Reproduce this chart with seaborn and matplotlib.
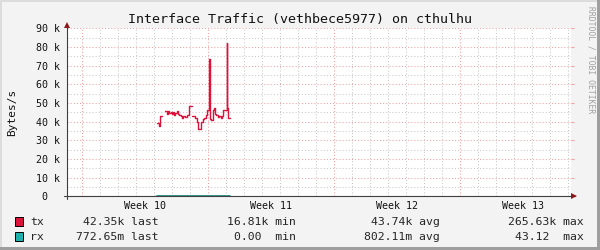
import numpy as np
import pandas as pd
import matplotlib
matplotlib.use("Agg")
import matplotlib.pyplot as plt
import matplotlib.transforms as mtransforms
from matplotlib.patches import Rectangle
from matplotlib.ticker import MultipleLocator, FixedLocator
import seaborn as sns

# ---------------- data ----------------
title = "Interface Traffic (vethbece5977) on cthulhu"
y_label = "Bytes/s"
watermark = "RRDTOOL / TOBI OETIKER"
week_labels = ["Week 10", "Week 11", "Week 12", "Week 13"]
week_starts = [0, 7, 14, 21]          # days since start of week 10
y_ticks = [0, 10000, 20000, 30000, 40000, 50000, 60000, 70000, 80000, 90000]
y_tick_labels = ["0  ", "10 k", "20 k", "30 k", "40 k", "50 k", "60 k", "70 k", "80 k", "90 k"]

# tx (bytes/s): step start time in days, value, segment id (gaps between segments)
tx_days = [4.18, 4.28, 4.35, 4.44,
           4.61, 4.71, 4.79, 4.85, 4.93, 4.98, 5.06, 5.11, 5.18, 5.26, 5.33, 5.41,
           5.48, 5.56, 5.63, 5.74, 5.85, 5.93, 6.09,
           6.11, 6.28, 6.37, 6.44, 6.61, 6.71, 6.78, 6.87, 6.94, 7.07, 7.13, 7.18,
           7.26, 7.33, 7.37, 7.44, 7.56, 7.63, 7.71, 7.78, 7.85, 8.03, 8.07, 8.13, 8.22]
tx_values = [39100, 37700, 43200, 43200,
             45700, 44300, 45700, 44500, 45300, 43900, 45000, 43600, 44500, 45700, 44300, 43600,
             42900, 42100, 43200, 42500, 43600, 48600, 48600,
             43200, 42100, 39700, 36100, 39700, 41400, 41800, 43600, 46100, 73800, 41400, 40900,
             46200, 47200, 43900, 43600, 42700, 43200, 42100, 43200, 46200, 82300, 47200, 42100, 42100]
tx_segment = [1] * 4 + [2] * 19 + [3] * 25

# rx (bytes/s): tiny values, hugging the zero line
rx_days = [4.18, 4.44, 4.61, 5.20, 5.80, 6.09, 6.11, 6.70, 7.30, 7.90, 8.22]
rx_values = [0.9, 0.7, 0.8, 0.6, 0.9, 0.8, 0.7, 0.9, 0.8, 0.8, 0.77]

legend_names = ["tx", "rx"]
legend_colors = ["#DC143C", "#20B2AA"]
legend_last = ["42.35k last", "772.65m last"]
legend_min = ["16.81k min", "0.00  min"]
legend_avg = ["43.74k avg", "802.11m avg"]
legend_max = ["265.63k max", "43.12  max"]

# ---------------- figure ----------------
W, H = 600, 250
sns.set_style("white")
plt.rcParams["font.family"] = ["DejaVu Sans Mono", "DejaVu Sans"]

fig = plt.figure(figsize=(6, 2.5), dpi=100, facecolor="#F3F3F3")

def fx(px):
    return px / W

def fy(py):
    return 1 - py / H

left_px, right_px, top_px, bottom_px = 67, 571, 28.4, 196.3
ax = fig.add_axes([fx(left_px), fy(bottom_px), fx(right_px - left_px), (bottom_px - top_px) / H])
ax.set_facecolor("white")

px_per_day = 18.0
ax.set_xlim(-(82 - left_px) / px_per_day, (right_px - 82) / px_per_day)
ax.set_ylim(0, 90000)

major_c = "#F2A0A0"
minor_c = "#C8C8C8"
dots = (0, (1, 2))

ax.xaxis.set_major_locator(FixedLocator(week_starts))
ax.xaxis.set_minor_locator(MultipleLocator(1))
ax.set_yticks(y_ticks)
ax.set_yticklabels(y_tick_labels)
ax.yaxis.set_minor_locator(MultipleLocator(5000))
ax.grid(which="minor", color=minor_c, linestyle=dots, linewidth=0.75)
ax.grid(which="major", color=major_c, linestyle=dots, linewidth=0.75)
ax.set_axisbelow(True)

ax.tick_params(axis="x", which="both", length=0, labelbottom=False)
ax.tick_params(axis="y", which="major", direction="out", length=2.2, width=0.75,
               color=major_c, pad=2.9, labelsize=7.2, labelcolor="#111111", right=True)
ax.tick_params(axis="y", which="minor", direction="out", length=2.2, width=0.75,
               color=minor_c, right=False)
for s in ax.spines.values():
    s.set_visible(False)

# data lines
tx_df = pd.DataFrame({"day": tx_days, "value": tx_values, "seg": tx_segment})
rx_df = pd.DataFrame({"day": rx_days, "value": rx_values, "seg": [1] * len(rx_days)})
sns.lineplot(data=rx_df, x="day", y="value", units="seg", estimator=None,
             drawstyle="steps-post", color="#1E8F88", linewidth=1.3, ax=ax, zorder=3)
sns.lineplot(data=tx_df, x="day", y="value", units="seg", estimator=None,
             drawstyle="steps-post", color="#DC143C", linewidth=1.0, ax=ax, zorder=4)
ax.set_xlabel("")
ax.set_ylabel("")

# axes with arrows
axis_c = "#404040"
arrow_c = "#8B1A1A"
ax_w = right_px - left_px
ax_h = bottom_px - top_px
ax.plot([-3 / ax_w, (575 - left_px) / ax_w], [0, 0], transform=ax.transAxes,
        clip_on=False, color=axis_c, lw=0.8, zorder=5)
ax.plot([0, 0], [-3 / ax_h, (bottom_px - 25) / ax_h], transform=ax.transAxes,
        clip_on=False, color=axis_c, lw=0.8, zorder=5)
ax.plot([(574 - left_px) / ax_w], [0], marker=">", ms=4.5, color=arrow_c,
        transform=ax.transAxes, clip_on=False, zorder=6, markeredgewidth=0)
ax.plot([0], [(bottom_px - 24.5) / ax_h], marker="^", ms=4.5, color=arrow_c,
        transform=ax.transAxes, clip_on=False, zorder=6, markeredgewidth=0)

# week labels
trans = mtransforms.blended_transform_factory(ax.transData, fig.transFigure)
for start, lab in zip(week_starts, week_labels):
    ax.text(start + 3.5, fy(206), lab, transform=trans, ha="center", va="center",
            fontsize=7.2, color="#111111")

# title, y label, watermark
fig.text(0.5, fy(19.3), title, ha="center", va="center", fontsize=9.6, color="#111111")
fig.text(fx(12.5), fy(112), y_label, rotation=90, ha="center", va="center",
         fontsize=8, color="#111111")
fig.text(fx(591), fy(60), watermark, rotation=270, ha="center", va="center",
         fontsize=5.8, color="#A0A0A0")

# legend
row_y = [221.8, 236.8]
for i in range(2):
    fig.patches.append(Rectangle((fx(15), fy(row_y[i] + 4.5)), fx(7.5), 9 / H,
                                 transform=fig.transFigure, facecolor=legend_colors[i],
                                 edgecolor="black", linewidth=0.7))
    fig.text(fx(30), fy(row_y[i]), legend_names[i], ha="left", va="center", fontsize=8.25)
    fig.text(fx(159), fy(row_y[i]), legend_last[i], ha="right", va="center", fontsize=8.25)
    fig.text(fx(295.5), fy(row_y[i]), legend_min[i], ha="right", va="center", fontsize=8.25)
    fig.text(fx(439.5), fy(row_y[i]), legend_avg[i], ha="right", va="center", fontsize=8.25)
    fig.text(fx(584), fy(row_y[i]), legend_max[i], ha="right", va="center", fontsize=8.25)

# 3D-ish border
fig.patches.append(Rectangle((0, 0), fx(2), 1, transform=fig.transFigure,
                             facecolor="#DCDCDC", edgecolor="none"))
fig.patches.append(Rectangle((0, fy(2)), 1, 2 / H, transform=fig.transFigure,
                             facecolor="#DCDCDC", edgecolor="none"))
fig.patches.append(Rectangle((fx(597), 0), fx(3), 1, transform=fig.transFigure,
                             facecolor="#9E9E9E", edgecolor="none"))
fig.patches.append(Rectangle((0, 0), 1, 3 / H, transform=fig.transFigure,
                             facecolor="#9E9E9E", edgecolor="none"))

fig.savefig("out.png", dpi=100, facecolor=fig.get_facecolor())
